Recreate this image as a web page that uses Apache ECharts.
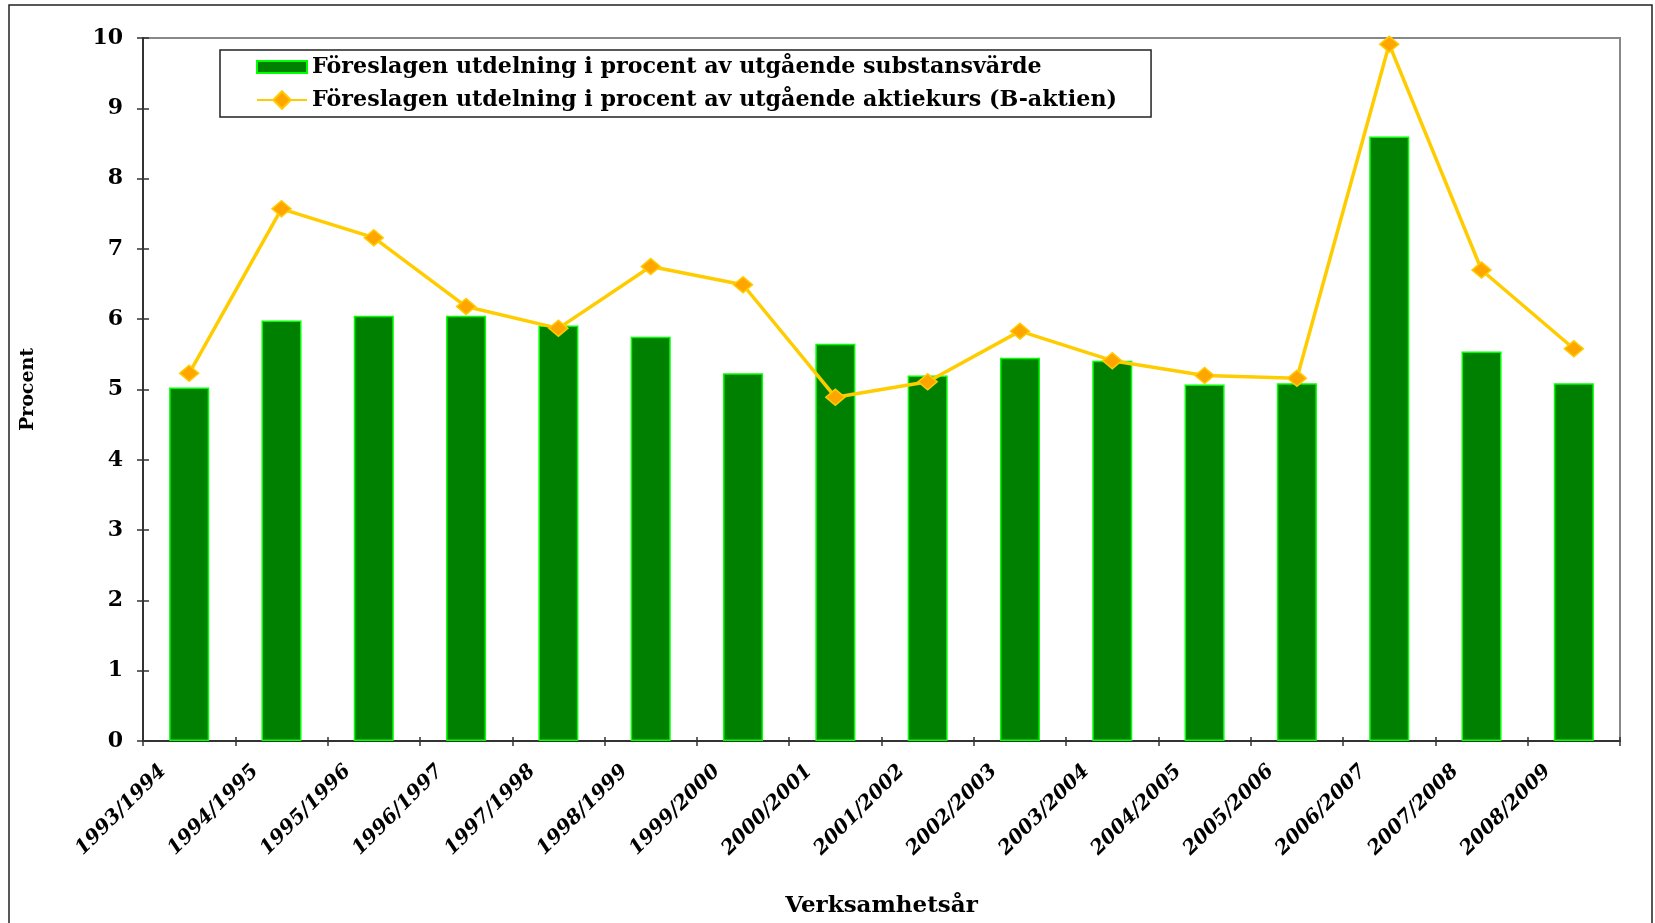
<!DOCTYPE html>
<html>
<head>
<meta charset="utf-8">
<script src="https://cdn.jsdelivr.net/npm/echarts@6/dist/echarts.min.js"></script>
<style>
html,body{margin:0;padding:0;background:#fff;}
#chart{width:1655px;height:923px;}
</style>
</head>
<body>
<div id="chart"></div>
<script>
const categories = ['1993/1994','1994/1995','1995/1996','1996/1997','1997/1998','1998/1999','1999/2000','2000/2001','2001/2002','2002/2003','2003/2004','2004/2005','2005/2006','2006/2007','2007/2008','2008/2009'];
const substansValues = [5.03, 5.98, 6.05, 6.05, 5.91, 5.75, 5.23, 5.65, 5.20, 5.45, 5.41, 5.07, 5.09, 8.60, 5.54, 5.09];
const aktiekursValues = [5.23, 7.57, 7.16, 6.18, 5.87, 6.75, 6.49, 4.89, 5.11, 5.83, 5.41, 5.20, 5.16, 9.91, 6.70, 5.58];
const yTicks = [0,1,2,3,4,5,6,7,8,9,10];
const seriesNames = ['Föreslagen utdelning i procent av utgående substansvärde','Föreslagen utdelning i procent av utgående aktiekurs (B-aktien)'];
const yName = 'Procent';
const xName = 'Verksamhetsår';

const serif = '"DejaVu Serif", "Liberation Serif", serif';
const chart = echarts.init(document.getElementById('chart'));

chart.setOption({
  animation: false,
  backgroundColor: '#fff',
  graphic: [{
    type: 'rect', shape: {x: 9, y: 5, width: 1643, height: 940},
    style: {fill: 'none', stroke: '#222', lineWidth: 1.5}, silent: true, z: -1
  }],
  grid: {left: 143, right: 35, top: 38, bottom: 180, show: true, borderColor: '#888', borderWidth: 2, backgroundColor: 'transparent'},
  legend: {
    orient: 'vertical', left: 220, top: 50,
    padding: [6, 34, 6, 36], itemGap: 11,
    itemWidth: 50, itemHeight: 22,
    borderColor: '#222', borderWidth: 1.5, backgroundColor: '#fff',
    textStyle: {fontFamily: serif, fontWeight: 'bold', fontSize: 22.2, color: '#000'},
    data: [
      {name: seriesNames[0], icon: 'path://M0,0h50v12h-50z'},
      {name: seriesNames[1]}
    ]
  },
  xAxis: [{
    type: 'category', data: categories, boundaryGap: true,
    axisLine: {lineStyle: {color: '#333', width: 2}},
    axisTick: {show: true, inside: true, length: 4, lineStyle: {color: '#333', width: 1.5}},
    axisLabel: {interval: 0, rotate: 45, margin: 1, padding: [0, 37, 0, 0],
      fontFamily: serif, fontWeight: 'bold', fontStyle: 'italic', fontSize: 20, color: '#000'},
    name: xName, nameLocation: 'middle', nameGap: 154,
    nameTextStyle: {fontFamily: serif, fontWeight: 'bold', fontSize: 23, color: '#000'}
  }, {
    type: 'category', data: categories, boundaryGap: true, position: 'bottom',
    axisLine: {show: false},
    axisTick: {show: true, length: 5, lineStyle: {color: '#333', width: 1.5}},
    axisLabel: {show: false}
  }],
  yAxis: [{
    type: 'value', min: 0, max: 10, interval: 1,
    axisLine: {show: true, lineStyle: {color: '#333', width: 2}},
    axisTick: {show: true, length: 6, lineStyle: {color: '#333', width: 1.5}},
    splitLine: {show: false},
    axisLabel: {margin: 20, fontFamily: serif, fontWeight: 'bold', fontSize: 22, color: '#000',
      formatter: v => yTicks.includes(v) ? String(v) : ''},
    name: yName, nameLocation: 'middle', nameGap: 105,
    nameTextStyle: {fontFamily: serif, fontWeight: 'bold', fontSize: 19, color: '#000'}
  }, {
    type: 'value', min: 0, max: 10, interval: 1, position: 'left',
    axisLine: {show: false},
    axisTick: {show: true, inside: true, length: 6, lineStyle: {color: '#333', width: 1.5}},
    splitLine: {show: false}, axisLabel: {show: false}
  }],
  series: [{
    name: seriesNames[0], type: 'bar', data: substansValues, barWidth: 40,
    itemStyle: {color: '#008000', borderColor: '#00ff00', borderWidth: 1.5},
    z: 2
  }, {
    name: seriesNames[1], type: 'line', data: aktiekursValues,
    symbol: 'diamond', symbolSize: [19, 16],
    lineStyle: {color: '#FFCC00', width: 3.5},
    itemStyle: {color: '#FFA500', borderColor: '#FFCC00', borderWidth: 1.5},
    z: 3
  }]
});
</script>
</body>
</html>
